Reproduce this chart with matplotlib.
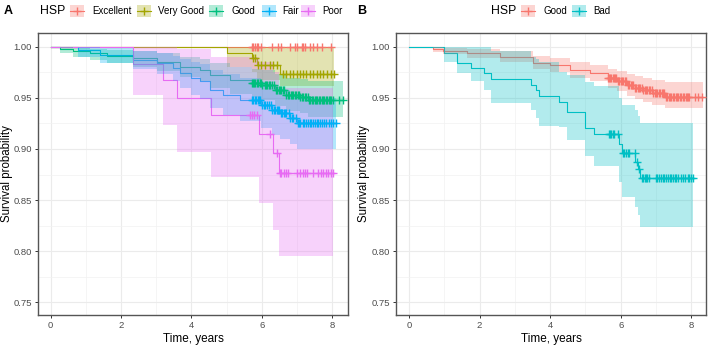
import numpy as np
import matplotlib
matplotlib.use("Agg")
import matplotlib.pyplot as plt
from matplotlib.patches import Rectangle
from matplotlib.lines import Line2D

plt.rcParams['font.family'] = ['Liberation Sans', 'DejaVu Sans']

# ---------------- panel A : HSP in five groups ----------------
groups_a = ["Excellent", "Very Good", "Good", "Fair", "Poor"]
colors_a = ["#F8766D", "#A3A500", "#00BF7D", "#00B0F6", "#E76BF3"]

exc_t = [0.0]
exc_s = [1.0]
exc_lo = [1.0]
exc_up = [1.0]
exc_end = 7.98
exc_cens = [5.71, 5.76, 5.80, 5.85, 5.90, 5.99, 6.28, 6.47, 6.56, 6.80, 6.94,
            6.99, 7.13, 7.18, 7.22, 7.37, 7.46, 7.56, 7.70, 7.98]

vg_t = [0.0, 5.0, 5.71, 5.85, 6.51]
vg_s = [1.0, 0.994, 0.989, 0.982, 0.973]
vg_lo = [1.0, 0.980, 0.975, 0.967, 0.962]
vg_up = [1.0, 1.0, 1.0, 1.0, 1.0]
vg_end = 8.05
vg_cens = [5.76, 5.80, 5.90, 5.99, 6.09, 6.23, 6.32, 6.44, 6.61, 6.70, 6.80,
           6.89, 6.99, 7.08, 7.18, 7.27, 7.37, 7.46, 7.56, 7.65, 7.74, 7.84,
           7.98, 8.05]

good_t = [0.0, 0.26, 0.64, 1.12, 1.59, 2.35, 3.01, 3.67, 4.24, 4.53, 5.09,
          5.71, 5.99, 6.37, 6.70, 7.08, 7.32]
good_s = [1.0, 0.998, 0.9958, 0.9935, 0.991, 0.9886, 0.9853, 0.9804, 0.977,
          0.9723, 0.9674, 0.9648, 0.9625, 0.9577, 0.9528, 0.951, 0.9475]
good_lo = [1.0, 0.994, 0.990, 0.987, 0.984, 0.980, 0.976, 0.970, 0.966,
           0.960, 0.954, 0.951, 0.948, 0.942, 0.937, 0.935, 0.931]
good_up = [1.0, 1.0, 0.999, 0.998, 0.997, 0.996, 0.994, 0.990, 0.988,
           0.984, 0.980, 0.978, 0.977, 0.973, 0.969, 0.968, 0.966]
good_end = 8.3
good_cens = [5.72, 5.75, 5.78, 5.82, 5.86, 5.90, 5.94, 5.98, 6.02, 6.08, 6.12,
             6.16, 6.20, 6.24, 6.30, 6.34, 6.40, 6.44, 6.48, 6.52, 6.56, 6.60,
             6.64, 6.70, 6.74, 6.78, 6.82, 6.86, 6.90, 6.94, 6.98, 7.02, 7.06,
             7.10, 7.14, 7.18, 7.22, 7.26, 7.30, 7.34, 7.38, 7.42, 7.46, 7.50,
             7.54, 7.58, 7.62, 7.66, 7.70, 7.74, 7.78, 7.82, 7.86, 7.90, 7.94,
             7.98, 8.02, 8.20, 8.30]

fair_t = [0.0, 0.78, 1.40, 2.35, 3.01, 3.48, 3.67, 4.00, 4.24, 4.53, 4.90,
          5.38, 5.99, 6.28, 6.51, 6.80, 7.00]
fair_s = [1.0, 0.997, 0.992, 0.987, 0.984, 0.979, 0.974, 0.969, 0.966, 0.958,
          0.953, 0.948, 0.943, 0.938, 0.935, 0.930, 0.925]
fair_lo = [1.0, 0.990, 0.984, 0.978, 0.973, 0.966, 0.960, 0.953, 0.949, 0.940,
           0.933, 0.927, 0.920, 0.914, 0.910, 0.905, 0.900]
fair_up = [1.0, 1.0, 0.999, 0.996, 0.994, 0.991, 0.988, 0.985, 0.983, 0.977,
           0.973, 0.969, 0.965, 0.961, 0.958, 0.954, 0.950]
fair_end = 8.1
fair_cens = [5.72, 5.76, 5.80, 5.84, 5.88, 5.92, 5.96, 6.00, 6.05, 6.10, 6.14,
             6.20, 6.26, 6.30, 6.34, 6.38, 6.42, 6.46, 6.50, 6.54, 6.58, 6.62,
             6.66, 6.70, 6.76, 6.80, 6.86, 6.90, 6.96, 7.02, 7.06, 7.10, 7.16,
             7.20, 7.26, 7.30, 7.36, 7.40, 7.46, 7.50, 7.56, 7.60, 7.66, 7.72,
             7.76, 7.82, 7.90, 7.96, 8.02, 8.10]

poor_t = [0.0, 2.35, 3.20, 3.58, 4.57, 5.92, 6.33, 6.48]
poor_s = [1.0, 0.983, 0.967, 0.950, 0.933, 0.915, 0.896, 0.876]
poor_lo = [1.0, 0.953, 0.923, 0.897, 0.873, 0.847, 0.821, 0.795]
poor_up = [1.0, 1.0, 1.0, 0.998, 0.990, 0.985, 0.975, 0.960]
poor_end = 8.02
poor_cens = [5.66, 5.72, 5.78, 5.85, 6.23, 6.43, 6.52, 6.56, 6.63, 6.68, 6.75,
             7.00, 7.08, 7.16, 7.22, 7.29, 7.46, 7.60, 7.67, 7.74, 7.82, 7.88,
             7.98, 8.02]

# ---------------- panel B : HSP in two groups ----------------
groups_b = ["Good", "Bad"]
colors_b = ["#F8766D", "#00BFC4"]

bg_t = [0.0, 0.68, 0.96, 1.63, 2.58, 3.52, 3.99, 4.56, 5.13, 5.65, 5.90,
        6.17, 6.40, 6.64, 6.90, 7.25]
bg_s = [1.0, 0.998, 0.996, 0.9935, 0.990, 0.9844, 0.982, 0.977, 0.974, 0.969,
        0.966, 0.9625, 0.960, 0.9577, 0.955, 0.951]
bg_lo = [1.0, 0.995, 0.993, 0.989, 0.985, 0.978, 0.975, 0.969, 0.966, 0.960,
         0.957, 0.952, 0.949, 0.946, 0.943, 0.940]
bg_up = [1.0, 1.0, 0.999, 0.998, 0.996, 0.991, 0.989, 0.985, 0.982, 0.978,
         0.976, 0.973, 0.971, 0.969, 0.967, 0.965]
bg_end = 8.33
bg_cens = [5.65, 5.68, 5.71, 5.74, 5.77, 5.80, 5.84, 5.88, 5.92, 5.96, 6.00,
           6.04, 6.08, 6.12, 6.16, 6.20, 6.24, 6.28, 6.32, 6.36, 6.40, 6.44,
           6.48, 6.52, 6.56, 6.60, 6.64, 6.68, 6.72, 6.76, 6.80, 6.84, 6.88,
           6.92, 6.96, 7.00, 7.04, 7.08, 7.12, 7.16, 7.20, 7.24, 7.28, 7.32,
           7.36, 7.40, 7.44, 7.48, 7.52, 7.56, 7.60, 7.64, 7.68, 7.72, 7.76,
           7.80, 7.84, 7.88, 7.92, 7.95, 8.10, 8.20, 8.30]

bb_t = [0.0, 0.99, 1.37, 1.75, 2.12, 2.31, 3.45, 3.59, 3.68, 4.25, 4.48, 5.00,
        5.24, 5.95, 6.03, 6.42, 6.50, 6.56]
bb_s = [1.0, 0.9935, 0.9838, 0.979, 0.974, 0.968, 0.9626, 0.9577, 0.952,
        0.9462, 0.9364, 0.920, 0.9146, 0.905, 0.8957, 0.8875, 0.880, 0.872]
bb_lo = [1.0, 0.985, 0.974, 0.966, 0.958, 0.945, 0.938, 0.930, 0.922, 0.921,
         0.909, 0.893, 0.883, 0.868, 0.853, 0.8435, 0.835, 0.824]
bb_up = [1.0, 1.0, 1.0, 1.0, 1.0, 0.996, 0.990, 0.988, 0.985, 0.975, 0.972,
         0.965, 0.962, 0.950, 0.943, 0.938, 0.932, 0.925]
bb_end = 8.05
bb_cens = [5.66, 5.70, 5.74, 5.78, 5.82, 5.93, 6.06, 6.10, 6.15, 6.20, 6.25,
           6.40, 6.47, 6.53, 6.60, 6.64, 6.68, 6.72, 6.76, 6.80, 7.00, 7.04,
           7.08, 7.13, 7.19, 7.24, 7.29, 7.34, 7.39, 7.44, 7.49, 7.54, 7.58,
           7.63, 7.72, 7.77, 7.82, 7.90, 7.95, 8.00, 8.05]

curves_a = [
    (exc_t, exc_s, exc_lo, exc_up, exc_end, exc_cens),
    (vg_t, vg_s, vg_lo, vg_up, vg_end, vg_cens),
    (good_t, good_s, good_lo, good_up, good_end, good_cens),
    (fair_t, fair_s, fair_lo, fair_up, fair_end, fair_cens),
    (poor_t, poor_s, poor_lo, poor_up, poor_end, poor_cens),
]
curves_b = [
    (bg_t, bg_s, bg_lo, bg_up, bg_end, bg_cens),
    (bb_t, bb_s, bb_lo, bb_up, bb_end, bb_cens),
]

W, H = 708, 346
fig = plt.figure(figsize=(W / 100, H / 100), dpi=100)


def px_axes(left, top, right, bottom):
    return fig.add_axes([left / W, 1 - bottom / H, (right - left) / W, (bottom - top) / H])


def draw_panel(ax, curves, colors, xlim):
    for (t, s, lo, up, end, cens), col in zip(curves, colors):
        tt = list(t) + [end]
        ax.step(tt, list(s) + [s[-1]], where="post", color=col, lw=0.8, zorder=3)
    for (t, s, lo, up, end, cens), col in zip(curves, colors):
        tt = list(t) + [end]
        ax.fill_between(tt, list(lo) + [lo[-1]], list(up) + [up[-1]], step="post",
                        color=col, alpha=0.3, lw=0, zorder=4)
    for (t, s, lo, up, end, cens), col in zip(curves, colors):
        idx = np.searchsorted(np.array(t), np.array(cens), side="right") - 1
        ax.plot(cens, np.array(s)[idx], ls="none", marker="+", ms=6, mew=1.0,
                color=col, zorder=5)
    ax.set_xlim(*xlim)
    ax.set_ylim(0.7376, 1.0134)
    ax.set_xticks([0, 2, 4, 6, 8])
    ax.set_xticks([1, 3, 5, 7], minor=True)
    ax.set_yticks([0.75, 0.80, 0.85, 0.90, 0.95, 1.00])
    ax.set_yticks([0.775, 0.825, 0.875, 0.925, 0.975], minor=True)
    ax.set_yticklabels(["0.75", "0.80", "0.85", "0.90", "0.95", "1.00"])
    ax.grid(True, which="major", color="#EBEBEB", lw=0.8, zorder=0)
    ax.grid(True, which="minor", color="#F2F2F2", lw=0.5, zorder=0)
    ax.set_axisbelow(True)
    ax.tick_params(which="major", length=2.5, width=0.7, color="#333333",
                   labelsize=6.8, labelcolor="#4D4D4D", pad=2)
    ax.tick_params(which="minor", length=0)
    for sp in ax.spines.values():
        sp.set_color("#555555")
        sp.set_linewidth(1.0)
    ax.set_xlabel("Time, years", fontsize=8.5, labelpad=2)


def draw_legend(x_title, keys_x, labels_x, labels, colors, y=11):
    fig.text(x_title / W, 1 - y / H, "HSP", fontsize=8.8, va="center", ha="left")
    for kx, lx, lab, col in zip(keys_x, labels_x, labels, colors):
        fig.add_artist(Rectangle((kx / W, 1 - (y + 6) / H), 14 / W, 12 / H,
                                 transform=fig.transFigure, facecolor=col,
                                 alpha=0.3, lw=0))
        fig.add_artist(Line2D([kx / W, (kx + 14) / W], [1 - y / H, 1 - y / H],
                              transform=fig.transFigure, color=col, lw=0.8))
        fig.add_artist(Line2D([(kx + 7) / W], [1 - y / H], transform=fig.transFigure,
                              color=col, marker="+", ms=6, mew=1.0))
        fig.text(lx / W, 1 - y / H, lab, fontsize=7.0, va="center", ha="left")


ax_a = px_axes(38, 33, 348, 315)
draw_panel(ax_a, curves_a, colors_a, (-0.36, 8.45))
ax_b = px_axes(396, 33, 706, 315)
draw_panel(ax_b, curves_b, colors_b, (-0.37, 8.42))

fig.text(7.5 / W, 1 - 174 / H, "Survival probability", fontsize=8.3,
         rotation=90, va="center", ha="center")
fig.text(363.5 / W, 1 - 174 / H, "Survival probability", fontsize=8.3,
         rotation=90, va="center", ha="center")

draw_legend(40, [70, 137, 209, 262, 301], [92, 158, 231, 282, 322], groups_a, colors_a)
draw_legend(491, [521, 572], [543, 593], groups_b, colors_b)

fig.text(4 / W, 1 - 11 / H, "A", fontsize=9, fontweight="bold", va="center")
fig.text(357 / W, 1 - 11 / H, "B", fontsize=9, fontweight="bold", va="center")

fig.savefig("out.png", dpi=100)
